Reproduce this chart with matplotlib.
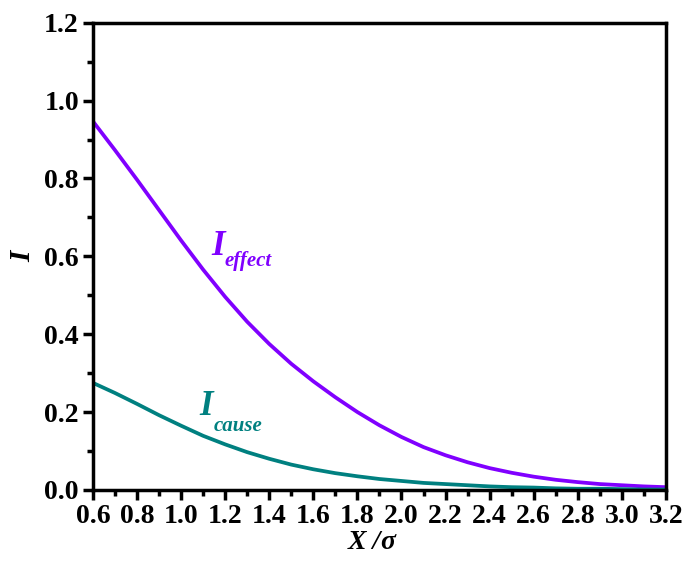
import numpy as np
import matplotlib.pyplot as plt
from matplotlib.ticker import MultipleLocator

plt.rcParams['font.family'] = ['Liberation Serif', 'DejaVu Serif']
plt.rcParams['font.weight'] = 'bold'

# X / sigma
x = [0.6, 0.7, 0.8, 0.9, 1.0, 1.1, 1.2, 1.3, 1.4, 1.5, 1.6, 1.7, 1.8, 1.9,
     2.0, 2.1, 2.2, 2.3, 2.4, 2.5, 2.6, 2.7, 2.8, 2.9, 3.0, 3.1, 3.2]
i_effect = [0.947, 0.873, 0.797, 0.719, 0.641, 0.566, 0.496, 0.432, 0.375,
            0.324, 0.279, 0.238, 0.200, 0.166, 0.136, 0.110, 0.089, 0.071,
            0.056, 0.044, 0.034, 0.026, 0.020, 0.015, 0.012, 0.009, 0.007]
i_cause = [0.275, 0.249, 0.221, 0.192, 0.165, 0.139, 0.117, 0.097, 0.080,
           0.065, 0.053, 0.043, 0.035, 0.028, 0.023, 0.018, 0.015, 0.012,
           0.009, 0.007, 0.006, 0.004, 0.003, 0.003, 0.002, 0.001, 0.001]

purple = '#8000ff'
teal = '#008080'

fig = plt.figure(figsize=(6.88, 5.69), dpi=100)
ax = fig.add_axes([0.135, 0.139, 0.833, 0.821])

ax.plot(x, i_effect, color=purple, lw=2.7, solid_capstyle='butt')
ax.plot(x, i_cause, color=teal, lw=2.7, solid_capstyle='butt')

ax.set_xlim(0.6, 3.2)
ax.set_ylim(0, 1.2)
ax.xaxis.set_major_locator(MultipleLocator(0.2))
ax.xaxis.set_minor_locator(MultipleLocator(0.1))
ax.yaxis.set_major_locator(MultipleLocator(0.2))
ax.yaxis.set_minor_locator(MultipleLocator(0.1))
ax.set_xticklabels([f'{v:.1f}' for v in ax.get_xticks()])
ax.set_yticklabels([f'{v:.1f}' for v in ax.get_yticks()])

for s in ax.spines.values():
    s.set_linewidth(2.5)
ax.tick_params(which='major', direction='out', length=7, width=2.5,
               labelsize=20, pad=3)
ax.tick_params(which='minor', direction='out', length=4, width=2.5)
for lab in ax.get_xticklabels() + ax.get_yticklabels():
    lab.set_fontweight('bold')

fig.text(0.553, 0.035, 'X /', fontsize=20, fontstyle='italic',
         fontweight='bold', ha='right', va='baseline')
fig.text(0.553, 0.035, 'σ', fontsize=20, fontstyle='italic',
         fontweight='bold', ha='left', va='baseline')
ax.set_ylabel('I', fontsize=21, fontstyle='italic', fontweight='bold',
              labelpad=6)

# curve labels
ax.text(1.138, 0.604, 'I', color=purple, fontsize=25, fontstyle='italic',
        fontweight='bold', va='baseline')
ax.text(1.199, 0.575, 'effect', color=purple, fontsize=15, fontstyle='italic',
        fontweight='bold', va='baseline')
ax.text(1.085, 0.193, 'I', color=teal, fontsize=25, fontstyle='italic',
        fontweight='bold', va='baseline')
ax.text(1.149, 0.152, 'cause', color=teal, fontsize=15, fontstyle='italic',
        fontweight='bold', va='baseline')

fig.savefig('out.png', dpi=100)
